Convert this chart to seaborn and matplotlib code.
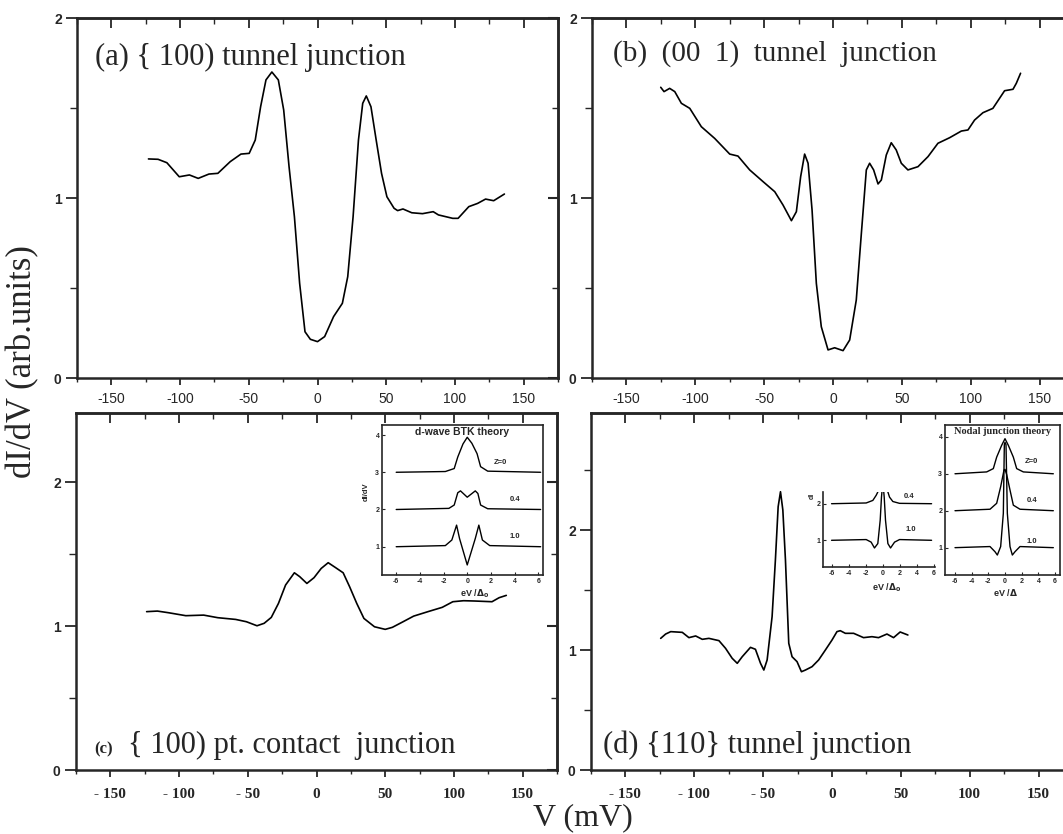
import matplotlib
matplotlib.use("Agg")
import matplotlib.pyplot as plt
import seaborn as sns
import pandas as pd
from matplotlib.ticker import MultipleLocator

# ---------------- data ----------------
# (a) {100} tunnel junction
a_v = [-123, -116, -109.6, -100.6, -93.2, -86.8, -79, -72.5, -63.5, -55.7, -49.7, -45.3, -41.4, -37.5,
       -33.2, -28.5, -24.6, -20.7, -16.8, -13, -9.1, -5.2, 0, 5.2, 11.7, 18.1, 22, 25.9, 29.8, 32.9,
       35.5, 38.9, 42.7, 46.6, 50.5, 55.7, 58.3, 62.2, 68.6, 76.4, 84.2, 88, 98.4, 102.3, 110.1,
       116.5, 122.3, 128.2, 136]
a_g = [1.217, 1.215, 1.196, 1.118, 1.128, 1.109, 1.133, 1.137, 1.202, 1.244, 1.248, 1.322, 1.507, 1.656,
       1.70, 1.656, 1.489, 1.174, 0.896, 0.526, 0.257, 0.215, 0.202, 0.23, 0.341, 0.415, 0.563, 0.896,
       1.322, 1.526, 1.567, 1.507, 1.322, 1.137, 1.007, 0.943, 0.930, 0.939, 0.918, 0.913, 0.924, 0.906,
       0.887, 0.887, 0.952, 0.970, 0.994, 0.985, 1.022]
# (b) (001) tunnel junction
b_v = [-125.1, -122.7, -118.6, -114.9, -110.1, -104.0, -95.6, -85.9, -75.0, -69.0, -60.5, -50.8, -42.3,
       -36.3, -30.2, -26.6, -23.5, -20.6, -18.1, -15.2, -12.1, -8.5, -3.6, 1.2, 7.3, 12.1, 16.9, 20.6,
       24.2, 26.6, 29.5, 32.7, 35.1, 38.7, 42.3, 45.9, 49.6, 54.4, 61.7, 69.0, 76.2, 84.7, 93.2, 98.0,
       102.8, 108.9, 116.1, 124.6, 130.7, 133.1, 136.2]
b_g = [1.615, 1.591, 1.609, 1.591, 1.526, 1.498, 1.396, 1.331, 1.244, 1.233, 1.156, 1.091, 1.035, 0.961,
       0.874, 0.924, 1.118, 1.244, 1.193, 0.933, 0.526, 0.285, 0.156, 0.168, 0.152, 0.211, 0.433, 0.804,
       1.156, 1.193, 1.156, 1.078, 1.1, 1.239, 1.307, 1.267, 1.193, 1.156, 1.174, 1.230, 1.304, 1.335,
       1.372, 1.378, 1.433, 1.474, 1.498, 1.596, 1.604, 1.637, 1.693]
# (c) {100} point contact junction
c_v = [-123.6, -115.8, -108.0, -95.1, -82.1, -71.8, -58.8, -51.0, -43.3, -38.1, -32.9, -27.7, -22.5,
       -16.1, -12.2, -7.0, -1.8, 3.4, 8.5, 13.7, 19.4, 24.1, 29.3, 34.5, 42.2, 50.0, 55.2, 63.0, 70.7,
       81.1, 91.5, 99.2, 107.0, 114.8, 127.7, 132.9, 138.1]
c_g = [1.10, 1.104, 1.093, 1.072, 1.076, 1.058, 1.046, 1.030, 1.002, 1.019, 1.06, 1.157, 1.285, 1.370,
       1.343, 1.296, 1.336, 1.400, 1.440, 1.407, 1.370, 1.273, 1.157, 1.053, 0.995, 0.977, 0.991, 1.030,
       1.069, 1.100, 1.130, 1.169, 1.176, 1.174, 1.169, 1.197, 1.213]
# (d) {110} tunnel junction
d_v = [-124.4, -120.8, -117.1, -108.7, -103.9, -99.0, -94.2, -89.4, -82.1, -77.3, -72.5, -68.8, -65.2,
       -59.2, -55.6, -51.9, -49.5, -47.1, -43.5, -41.1, -39.1, -37.4, -35.7, -33.8, -31.4, -29.0, -25.4,
       -22.2, -19.3, -14.5, -9.7, -4.8, 0, 3.6, 6.0, 9.7, 15.7, 22.9, 29.0, 33.8, 39.9, 44.7, 49.5, 55.1]
d_g = [1.097, 1.133, 1.153, 1.147, 1.103, 1.117, 1.089, 1.097, 1.078, 1.014, 0.931, 0.889, 0.944, 1.022,
       1.006, 0.889, 0.833, 0.917, 1.278, 1.75, 2.194, 2.319, 2.167, 1.75, 1.056, 0.944, 0.903, 0.819,
       0.833, 0.861, 0.917, 1.0, 1.083, 1.153, 1.161, 1.139, 1.139, 1.103, 1.111, 1.103, 1.133, 1.103,
       1.15, 1.125]

# inset (c): d-wave BTK theory
btk_z0_x = [-6, -1.85, -1.1, -0.8, -0.36, 0, 0.39, 0.83, 1.13, 1.73, 6.2]
btk_z0_y = [3.0, 3.02, 3.1, 3.41, 3.76, 3.94, 3.78, 3.5, 3.15, 3.03, 3.0]
btk_z04_x = [-6, -1.55, -1.1, -0.8, -0.57, -0.2, 0, 0.24, 0.68, 0.9, 1.13, 1.73, 6.2]
btk_z04_y = [2.0, 2.03, 2.12, 2.45, 2.5, 2.39, 2.33, 2.39, 2.5, 2.43, 2.12, 2.02, 2.0]
btk_z1_x = [-6, -1.85, -1.3, -0.9, -0.65, 0, 0.68, 0.98, 1.28, 1.9, 6.2]
btk_z1_y = [1.0, 1.03, 1.18, 1.58, 1.22, 0.51, 1.22, 1.58, 1.18, 1.03, 1.0]
# inset (d), partial panel
p_z04_x = [-6, -1.95, -1.17, -0.78, -0.59, -0.45, 0.45, 0.59, 0.78, 1.17, 1.95, 5.7]
p_z04_y = [2.0, 2.02, 2.09, 2.23, 2.32, 2.6, 2.6, 2.32, 2.18, 2.06, 2.01, 2.0]
p_z1_x = [-6, -1.95, -1.37, -0.98, -0.59, -0.31, -0.16, 0, 0.16, 0.31, 0.59, 0.9, 1.37, 1.95, 5.7]
p_z1_y = [1.0, 1.02, 0.95, 0.79, 0.91, 1.55, 2.18, 2.6, 2.18, 1.55, 0.91, 0.79, 0.95, 1.02, 1.0]
# inset (d): Nodal junction theory
n_z0_x = [-6, -2.2, -1.4, -1.0, -0.4, 0, 0.4, 1.0, 1.4, 2.2, 5.8]
n_z0_y = [3.0, 3.05, 3.14, 3.45, 3.77, 3.95, 3.77, 3.45, 3.14, 3.05, 3.0]
n_z04_x = [-6, -1.8, -1.0, -0.52, -0.12, 0, 0.2, 0.6, 1.0, 1.8, 5.8]
n_z04_y = [2.0, 2.04, 2.2, 2.65, 3.1, 3.12, 2.98, 2.56, 2.15, 2.04, 2.0]
n_z1_x = [-6, -1.8, -1.2, -0.92, -0.52, -0.2, -0.08, 0, 0.12, 0.28, 0.6, 0.88, 1.2, 1.8, 5.8]
n_z1_y = [1.0, 1.03, 0.89, 0.8, 1.03, 1.93, 3.79, 3.85, 3.79, 1.93, 1.03, 0.8, 0.89, 1.03, 1.0]

x_ticks = [-150, -100, -50, 0, 50, 100, 150]
x_labels_sans = ["-150", "-100", "-50", "0", "50", "100", "150"]
x_labels_bold = ["- 150", "- 100", "- 50", "0", "50", "100", "150"]
inset_xticks = [-6, -4, -2, 0, 2, 4, 6]

titles = {
    "a": "(a) { 100) tunnel junction",
    "b": "(b)  (00  1)  tunnel  junction",
    "c": "{ 100) pt. contact  junction",
    "d": "(d) {110} tunnel junction",
}

# ---------------- style ----------------
sns.set_style("ticks")
plt.rcParams["font.family"] = ["Liberation Serif", "DejaVu Serif"]
plt.rcParams["axes.linewidth"] = 1.8
SANS = "Liberation Sans"
SERIF = "Liberation Serif"

W, H = 1063, 834
fig = plt.figure(figsize=(W / 100, H / 100), dpi=100)


def rect(x0, y0, x1, y1):
    return [x0 / W, 1 - y1 / H, (x1 - x0) / W, (y1 - y0) / H]


def P(x, y):
    return x / W, 1 - y / H


def curve(ax, xs, ys, lw=1.2):
    df = pd.DataFrame({"V": xs, "G": ys})
    sns.lineplot(data=df, x="V", y="G", ax=ax, color="black", lw=lw, estimator=None, sort=False)
    ax.set_xlabel("")
    ax.set_ylabel("")


def main_axes(r, ylim, bold_labels):
    ax = fig.add_axes(r)
    ax.set_xlim(-175, 175)
    ax.set_ylim(*ylim)
    for s in ax.spines.values():
        s.set_linewidth(1.8)
        s.set_visible(True)
    ax.xaxis.set_minor_locator(MultipleLocator(25))
    ax.yaxis.set_major_locator(MultipleLocator(1))
    ax.yaxis.set_minor_locator(MultipleLocator(0.5))
    ax.tick_params(axis="x", which="major", direction="out", length=5, width=1.3, top=False)
    ax.tick_params(axis="x", which="minor", direction="out", length=3, width=1.0, top=False)
    ax.tick_params(axis="y", which="major", direction="out", length=8, width=1.3, pad=3, right=False)
    ax.tick_params(axis="y", which="minor", direction="out", length=5, width=1.0, right=False)
    if bold_labels:
        ax.set_xticks(x_ticks, x_labels_bold, fontfamily=SERIF, fontweight="bold", fontsize=11)
        ax.tick_params(axis="x", which="major", pad=8)
    else:
        ax.set_xticks(x_ticks, x_labels_sans, fontfamily=SANS, fontsize=10)
        ax.tick_params(axis="x", which="major", pad=5)
    for lab in ax.get_yticklabels():
        lab.set_fontfamily(SANS)
        lab.set_fontweight("bold")
        lab.set_fontsize(10)
    top = ax.secondary_xaxis("top")
    top.xaxis.set_major_locator(MultipleLocator(50))
    top.xaxis.set_minor_locator(MultipleLocator(25))
    top.tick_params(axis="x", which="major", direction="in", length=7, width=1.3, labeltop=False)
    top.tick_params(axis="x", which="minor", direction="in", length=4, width=1.0, labeltop=False)
    top.spines["top"].set_linewidth(1.8)
    right = ax.secondary_yaxis("right")
    right.yaxis.set_major_locator(MultipleLocator(1))
    right.yaxis.set_minor_locator(MultipleLocator(0.5))
    right.tick_params(axis="y", which="major", direction="in", length=7, width=1.5, labelright=False)
    right.tick_params(axis="y", which="minor", direction="in", length=4, width=1.0, labelright=False)
    right.spines["right"].set_linewidth(1.8)
    return ax


ax_a = main_axes(rect(77, 18, 558, 378), (0, 2), False)
curve(ax_a, a_v, a_g)
ax_b = main_axes(rect(592, 18, 1074, 378), (0, 2), False)
curve(ax_b, b_v, b_g)
ax_c = main_axes(rect(76, 413, 557, 770), (0, 2.48), True)
curve(ax_c, c_v, c_g)
ax_d = main_axes(rect(591, 413, 1073, 770), (0, 2.975), True)
curve(ax_d, d_v, d_g)

# panel titles
fig.text(*P(95, 57), titles["a"], fontsize=22, ha="left", va="center", family=SERIF)
fig.text(*P(613, 54), titles["b"], fontsize=21, ha="left", va="center", family=SERIF)
fig.text(*P(94, 749), "(c)", fontsize=12, fontweight="bold", ha="left", va="center", family=SERIF)
fig.text(*P(128, 745), titles["c"], fontsize=22, ha="left", va="center", family=SERIF)
fig.text(*P(603, 745), titles["d"], fontsize=22, ha="left", va="center", family=SERIF)

# shared axis labels
fig.text(*P(23, 362), "dI/dV (arb.units)", fontsize=25, rotation=90, ha="center", va="center",
         family=SERIF)
fig.text(*P(583, 818), "V (mV)", fontsize=23, ha="center", va="center", family=SERIF)


# ---------------- insets ----------------
def inset(r, xlim, ylim, yticks, full_box=True):
    ax = fig.add_axes(r)
    ax.set_xlim(*xlim)
    ax.set_ylim(*ylim)
    for name, s in ax.spines.items():
        s.set_linewidth(1.2)
        if not full_box and name in ("top", "right"):
            s.set_visible(False)
    ax.set_xticks(inset_xticks, [str(t) for t in inset_xticks], fontfamily=SANS,
                  fontweight="bold", fontsize=5)
    ax.set_yticks(yticks, [str(t) for t in yticks], fontfamily=SANS, fontweight="bold", fontsize=5)
    ax.tick_params(axis="both", direction="in", length=2, width=0.8, pad=2)
    ax.set_facecolor("white")
    return ax


ax_i1 = inset(rect(382, 425, 543, 575), (-7.2, 6.4), (0.24, 4.27), [1, 2, 3, 4])
curve(ax_i1, btk_z0_x, btk_z0_y, lw=1.0)
curve(ax_i1, btk_z04_x, btk_z04_y, lw=1.0)
curve(ax_i1, btk_z1_x, btk_z1_y, lw=1.0)
ax_i1.text(0.5, 0.985, "d-wave BTK theory", transform=ax_i1.transAxes, ha="center", va="top",
           fontsize=7.5, fontweight="bold", family=SANS)
for xx, yy, tt in [(2.8, 3.27, "Z=0"), (4.0, 2.27, "0.4"), (4.0, 1.27, "1.0")]:
    ax_i1.text(xx, yy, tt, fontsize=5.5, fontweight="bold", family=SANS, ha="center", va="center")
fig.text(*P(366, 492), "dI/dV", fontsize=5.5, fontweight="bold", family=SANS, rotation=90,
         ha="center", va="center")
fig.text(*P(475, 594), r"eV /$\mathbf{\Delta}_{\mathbf{0}}$", fontsize=6.5, fontweight="bold",
         family=SANS, ha="center", va="center")

ax_i2 = inset(rect(823, 492, 935, 567), (-7.0, 6.1), (0.27, 2.32), [1, 2], full_box=False)
curve(ax_i2, p_z04_x, p_z04_y, lw=1.0)
curve(ax_i2, p_z1_x, p_z1_y, lw=1.0)
for xx, yy, tt in [(3.1, 2.2, "0.4"), (3.3, 1.3, "1.0")]:
    ax_i2.text(xx, yy, tt, fontsize=5.5, fontweight="bold", family=SANS, ha="center", va="center")
fig.text(*P(812, 496), "dI", fontsize=5, fontweight="bold", family=SANS, rotation=90,
         ha="center", va="center")
fig.text(*P(887, 588), r"eV /$\mathbf{\Delta}_{\mathbf{0}}$", fontsize=6.5, fontweight="bold",
         family=SANS, ha="center", va="center")

ax_i3 = inset(rect(945, 425, 1060, 575), (-7.2, 6.6), (0.26, 4.32), [1, 2, 3, 4])
curve(ax_i3, n_z0_x, n_z0_y, lw=1.0)
curve(ax_i3, n_z04_x, n_z04_y, lw=1.0)
curve(ax_i3, n_z1_x, n_z1_y, lw=1.0)
ax_i3.text(0.5, 0.99, "Nodal junction theory", transform=ax_i3.transAxes, ha="center", va="top",
           fontsize=7.5, fontweight="bold", family=SERIF)
for xx, yy, tt in [(3.2, 3.32, "Z=0"), (3.2, 2.29, "0.4"), (3.2, 1.17, "1.0")]:
    ax_i3.text(xx, yy, tt, fontsize=5.5, fontweight="bold", family=SANS, ha="center", va="center")
fig.text(*P(1005, 592), r"eV /$\mathbf{\Delta}$", fontsize=6.5, fontweight="bold",
         family=SANS, ha="center", va="center")

fig.savefig("out.png", dpi=100, facecolor="white")
